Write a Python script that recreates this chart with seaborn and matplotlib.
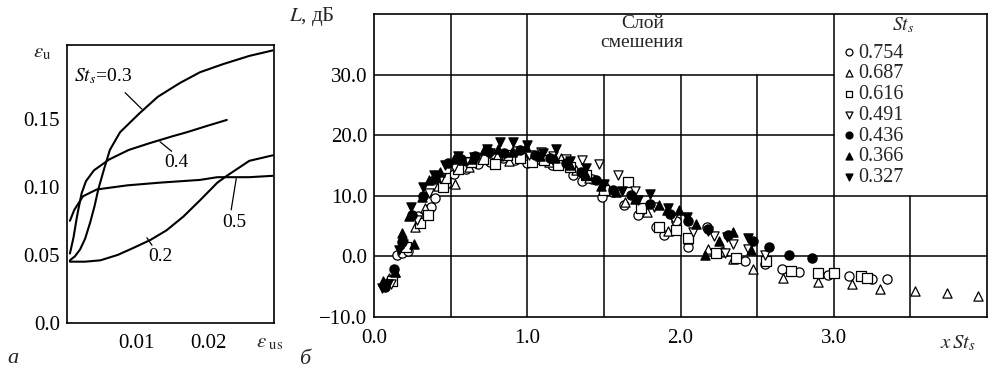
import matplotlib
matplotlib.use("Agg")
import matplotlib.pyplot as plt
import seaborn as sns
import pandas as pd

# ---- panel a: eps_u vs eps_us curves ----
c02_x = [0.0009, 0.0030, 0.0051, 0.0075, 0.0096, 0.0120, 0.0142, 0.0165, 0.0188, 0.0212, 0.0225, 0.0256, 0.0288]
c02_y = [0.045, 0.045, 0.046, 0.050, 0.055, 0.061, 0.068, 0.078, 0.090, 0.103, 0.108, 0.119, 0.123]
c03_x = [0.0009, 0.0016, 0.0023, 0.0030, 0.0037, 0.0043, 0.0048, 0.0056, 0.0064, 0.0078, 0.0105, 0.0130, 0.0160, 0.0188, 0.0220, 0.0256, 0.0288]
c03_y = [0.046, 0.049, 0.054, 0.062, 0.074, 0.086, 0.098, 0.113, 0.127, 0.140, 0.154, 0.166, 0.176, 0.184, 0.190, 0.196, 0.200]
c04_x = [0.0009, 0.0014, 0.0019, 0.0025, 0.0031, 0.0042, 0.0063, 0.0090, 0.0119, 0.0150, 0.0170, 0.0200, 0.0225]
c04_y = [0.051, 0.063, 0.079, 0.095, 0.104, 0.112, 0.120, 0.127, 0.132, 0.137, 0.140, 0.145, 0.149]
c05_x = [0.0009, 0.0015, 0.0027, 0.0046, 0.0088, 0.0133, 0.0188, 0.0212, 0.0256, 0.0288]
c05_y = [0.075, 0.083, 0.093, 0.098, 0.101, 0.103, 0.105, 0.107, 0.107, 0.108]

# ---- panel b: L vs x*St_s for seven St_s values ----
st_labels = ["0.754", "0.687", "0.616", "0.491", "0.436", "0.366", "0.327"]
x754 = [0.15, 0.18, 0.22, 0.29, 0.37, 0.40, 0.47, 0.52, 0.60, 0.68, 0.76, 0.84, 0.92, 1.00, 1.08, 1.16, 1.24, 1.30, 1.36, 1.42,
        1.49, 1.56, 1.63, 1.72, 1.84, 1.89, 1.97, 2.05, 2.17, 2.27, 2.42, 2.55, 2.66, 2.77, 2.96, 3.10, 3.25, 3.35]
y754 = [0.2, 0.6, 0.9, 6.6, 8.2, 9.6, 12.0, 13.6, 14.4, 15.3, 15.6, 16.2, 15.9, 15.4, 16.0, 15.0, 15.6, 13.4, 12.4, 12.8,
        9.8, 10.6, 8.5, 6.9, 4.9, 3.6, 5.8, 1.6, 4.9, 0.8, -0.8, -1.2, -2.1, -2.5, -3.0, -3.3, -3.8, -3.8]
x687 = [0.10, 0.14, 0.20, 0.27, 0.33, 0.42, 0.53, 0.62, 0.72, 0.80, 0.88, 0.97, 1.05, 1.14, 1.22, 1.32, 1.40, 1.52, 1.64, 1.78,
        1.92, 2.05, 2.18, 2.28, 2.34, 2.47, 2.67, 2.90, 3.12, 3.30, 3.53, 3.74, 3.94]
y687 = [-3.5, -2.5, 2.5, 4.9, 8.0, 11.6, 12.0, 14.8, 17.2, 16.5, 15.8, 16.8, 16.0, 15.5, 16.3, 14.2, 13.0, 11.4, 9.0, 7.4,
        4.2, 2.8, 1.3, 0.9, -0.5, -2.0, -3.6, -4.3, -4.6, -5.4, -5.7, -6.0, -6.5]
x616 = [0.12, 0.21, 0.30, 0.35, 0.45, 0.46, 0.55, 0.63, 0.71, 0.79, 0.87, 0.95, 1.03, 1.11, 1.20, 1.28, 1.38, 1.50, 1.66, 1.74,
        1.86, 1.97, 2.05, 2.23, 2.36, 2.56, 2.72, 2.90, 3.00, 3.18, 3.22]
y616 = [-4.0, 1.5, 5.5, 6.9, 11.5, 13.0, 14.5, 15.5, 16.0, 15.2, 16.8, 16.2, 15.5, 15.9, 15.0, 14.8, 13.5, 11.0, 12.3, 8.0,
        4.9, 4.4, 3.0, 0.5, -0.2, -0.8, -2.4, -2.8, -2.8, -3.3, -3.6]
x491 = [0.11, 0.19, 0.28, 0.36, 0.44, 0.52, 0.60, 0.68, 0.76, 0.84, 0.93, 1.01, 1.09, 1.17, 1.25, 1.36, 1.47, 1.59, 1.70, 1.83,
        1.95, 2.08, 2.22, 2.29, 2.34, 2.44, 2.55]
y491 = [-4.5, 2.0, 6.0, 10.4, 13.0, 14.8, 15.5, 16.2, 17.0, 16.6, 17.4, 16.8, 17.2, 16.5, 16.0, 15.9, 15.2, 13.4, 10.8, 8.2,
        6.4, 4.0, 3.4, 0.5, 2.1, 1.2, 0.3]
x436 = [0.07, 0.13, 0.18, 0.25, 0.32, 0.40, 0.48, 0.57, 0.66, 0.75, 0.85, 0.95, 1.05, 1.15, 1.25, 1.35, 1.45, 1.56, 1.68, 1.80,
        1.93, 2.05, 2.18, 2.31, 2.47, 2.58, 2.71, 2.86]
y436 = [-5.0, -2.0, 2.4, 6.8, 10.0, 12.8, 15.4, 16.0, 16.6, 17.2, 17.0, 17.6, 16.8, 16.2, 15.4, 14.0, 12.6, 11.0, 10.2, 8.6,
        7.0, 5.8, 4.6, 3.6, 2.6, 1.6, 0.3, -0.3]
x366 = [0.06, 0.14, 0.18, 0.23, 0.26, 0.31, 0.36, 0.43, 0.52, 0.58, 0.64, 0.72, 0.81, 0.90, 0.99, 1.08, 1.18, 1.28, 1.38, 1.48,
        1.58, 1.70, 1.86, 1.91, 1.99, 2.10, 2.16, 2.25, 2.34, 2.46]
y366 = [-4.0, -2.5, 3.8, 6.6, 2.1, 9.8, 12.6, 14.0, 16.0, 15.9, 16.0, 17.5, 17.8, 17.2, 18.0, 16.6, 16.2, 15.0, 13.4, 11.6,
        10.7, 9.4, 8.5, 7.7, 7.7, 5.4, 0.3, 2.5, 4.1, 1.0]
x327 = [0.05, 0.09, 0.16, 0.24, 0.32, 0.39, 0.46, 0.55, 0.65, 0.74, 0.82, 0.91, 1.00, 1.10, 1.19, 1.28, 1.38, 1.50, 1.62, 1.72,
        1.80, 1.92, 2.04, 2.18, 2.30, 2.44]
y327 = [-5.2, -4.6, 1.0, 8.2, 11.5, 13.4, 15.0, 16.5, 16.4, 17.8, 18.9, 18.9, 18.3, 17.0, 17.7, 15.8, 14.6, 12.0, 10.8, 9.3,
        10.3, 8.0, 6.5, 4.2, 3.2, 3.0]

sns.set_theme(style="white")
plt.rcParams["font.family"] = ["Liberation Serif", "DejaVu Serif"]
plt.rcParams["mathtext.fontset"] = "stix"
plt.rcParams["axes.edgecolor"] = "black"
plt.rcParams["axes.linewidth"] = 1.2

fig = plt.figure(figsize=(9.9, 3.71), dpi=100)
axa = fig.add_axes([0.0677, 0.1294, 0.2091, 0.7493])
axb = fig.add_axes([0.3778, 0.1456, 0.6192, 0.8167])

# ---- panel a ----
curves = [(c02_x, c02_y), (c03_x, c03_y), (c04_x, c04_y), (c05_x, c05_y)]
for cx, cy in curves:
    sns.lineplot(x=cx, y=cy, ax=axa, color="black", lw=1.5, sort=False, estimator=None)
axa.set_xlim(0.0005, 0.029)
axa.set_ylim(0, 0.204)
axa.set_yticks([0, 0.05, 0.10, 0.15])
axa.set_yticklabels(["0.0", "0.05", "0.10", "0.15"])
axa.set_xticks([0.01, 0.02])
axa.set_xticklabels(["0.01", "0.02"])
axa.tick_params(direction="in", length=6, width=1, colors="black", labelsize=15, pad=5)
axa.tick_params(axis="x", pad=8)
axa.set_xlabel("")
axa.set_ylabel("")

lab = dict(fontsize=14, color="black")
axa.text(0.0014, 0.181, "$St_s$=0.3", ha="left", va="center", **lab)
axa.plot([0.0085, 0.0108], [0.169, 0.157], color="black", lw=0.9)
axa.text(0.0156, 0.118, "0.4", ha="center", va="center", **lab)
axa.plot([0.0133, 0.0149], [0.133, 0.126], color="black", lw=0.9)
axa.text(0.0236, 0.0735, "0.5", ha="center", va="center", **lab)
axa.plot([0.0238, 0.0231], [0.106, 0.083], color="black", lw=0.9)
axa.text(0.0133, 0.0485, "0.2", ha="center", va="center", **lab)
axa.plot([0.0115, 0.0122], [0.0625, 0.057], color="black", lw=0.9)

fig.text(0.043, 0.857, r"$\varepsilon_{\mathrm{u}}$", fontsize=15, ha="center", va="center")
fig.text(0.272, 0.075, r"$\varepsilon_{\ \mathrm{us}}$", fontsize=15, ha="center", va="center")
fig.text(0.013, 0.035, "а", fontsize=16, style="italic", ha="center", va="center")

# ---- panel b ----
series = [
    (x754, y754, "o", "white"),
    (x687, y687, "^", "white"),
    (x616, y616, "s", "white"),
    (x491, y491, "v", "white"),
    (x436, y436, "o", "black"),
    (x366, y366, "^", "black"),
    (x327, y327, "v", "black"),
]
handles = []
for (sx, sy, m, fc), lbl in zip(series, st_labels):
    df = pd.DataFrame({"x": sx, "L": sy})
    sns.scatterplot(data=df, x="x", y="L", marker=m, s=44, color=fc, edgecolor="black",
                    linewidth=0.9, ax=axb, zorder=3)
    handles.append(axb.collections[-1])

axb.set_xlim(0, 4.0)
axb.set_ylim(-10, 40)
axb.set_xticks([0, 1, 2, 3])
axb.set_xticklabels(["0.0", "1.0", "2.0", "3.0"])
axb.set_yticks([-10, 0, 10, 20, 30])
axb.set_yticklabels(["\u221210.0", "0.0", "10.0", "20.0", "30.0"])
axb.tick_params(length=0, colors="black", labelsize=15)
axb.tick_params(axis="x", pad=9)
axb.tick_params(axis="y", pad=5)
axb.set_xlabel("")
axb.set_ylabel("")

gl = dict(color="black", lw=1.1, zorder=1)
axb.axhline(0, **gl)
axb.axhline(10, **gl)
axb.axhline(20, xmax=0.75, **gl)
axb.axhline(30, xmax=0.75, **gl)
for xv in [0.5, 1.0, 3.0]:
    axb.axvline(xv, **gl)
for xv in [1.5, 2.0, 2.5]:
    axb.axvline(xv, ymax=0.8, **gl)
axb.axvline(3.5, ymax=0.4, **gl)

axb.text(1.75, 36.8, "Слой\nсмешения", ha="center", va="center", fontsize=14, linespacing=1.15)

# legend box (St_s header + markers)
axb.text(3.45, 38.2, "$St_s$", ha="center", va="center", fontsize=14)
leg = axb.legend(handles, st_labels, loc="upper left",
                 bbox_to_anchor=(3.05, 35.1), bbox_transform=axb.transData,
                 frameon=False, fontsize=14.5, handlelength=0.8,
                 handletextpad=0.05, labelspacing=0.08, borderpad=0.0,
                 borderaxespad=0.0, markerscale=0.75)

fig.text(0.315, 0.955, "$L$, дБ", fontsize=15, ha="center", va="center")
fig.text(0.968, 0.075, "$x\\,St_s$", fontsize=15, ha="center", va="center")
fig.text(0.308, 0.03, "б", fontsize=16, style="italic", ha="center", va="center")

fig.savefig("out.png", dpi=100)
plt.close(fig)
